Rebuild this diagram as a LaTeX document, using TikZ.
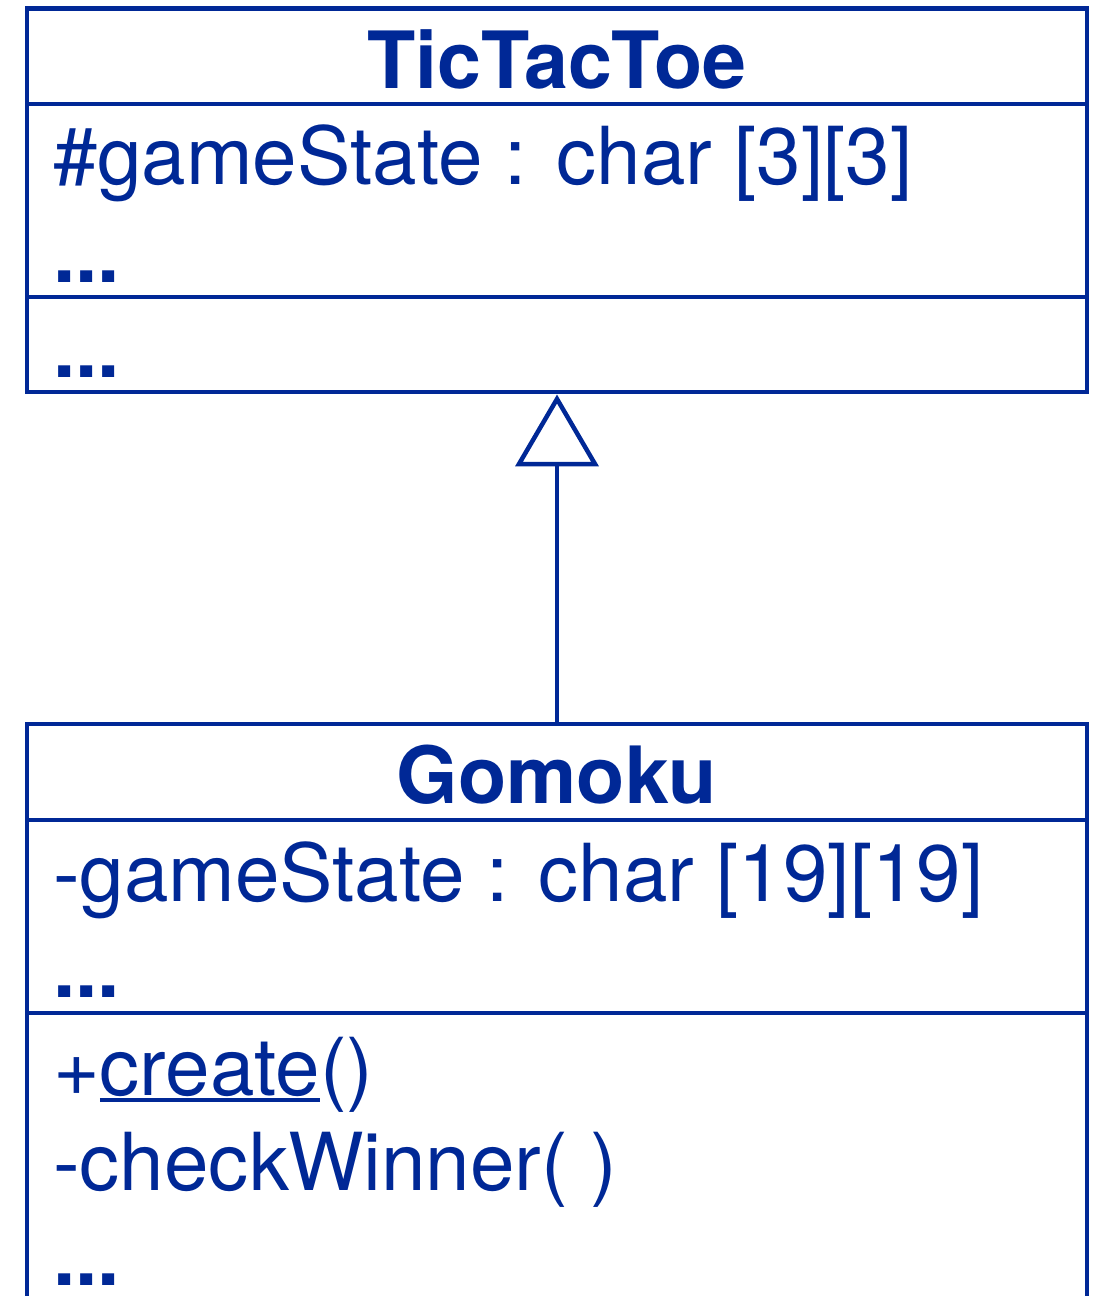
\documentclass[tikz,border=0pt]{standalone}
\usepackage{fontspec}
\setmainfont{TeX Gyre Heros}
\newcommand\umlunderline[1]{\setbox0\hbox{#1}\rlap{\rule[-7pt]{\wd0}{4pt}}\box0}
\newcommand\umlmore{\textbf{...}}
\begin{document}
\begin{tikzpicture}[x=1pt,y=-1pt,
  umlblue/.style={draw=umlcol,line width=4.5pt},
  part/.style={umlblue,rectangle,minimum width=1060pt,inner sep=0pt,outer sep=0pt,anchor=north west},
  member/.style={anchor=base west,inner sep=0pt,text=umlcol,font=\fontsize{80}{96}\selectfont},
  classname/.style={anchor=base,inner sep=0pt,text=umlcol,font=\fontsize{79}{96}\selectfont\bfseries}]
\definecolor{umlcol}{RGB}{0,40,150}
\useasboundingbox (0,0) rectangle (1099,1296);
\clip (0,0) rectangle (1099,1296);

% class TicTacToe
\node[part,minimum height=95.5pt] (tHead) at (27,8.5) {};
\node[part,minimum height=193pt] (tAttr) at (27,104) {};
\node[part,minimum height=95pt] (tOps) at (27,297) {};
\node[classname] (tName) at (557,88) {TicTacToe};
\node[member] (tA1) at (53,184) {\#gameState : char [3][3]};
\node[member] (tA2) at (53,282) {\umlmore};
\node[member] (tO1) at (53,377) {\umlmore};

% class Gomoku (runs on past the lower edge)
\node[part,minimum height=96pt] (gHead) at (27,724) {};
\node[part,minimum height=193pt] (gAttr) at (27,820) {};
\coordinate (gOpsL) at (27,1013);
\coordinate (gOpsR) at (1087,1013);
\coordinate (gEndL) at (27,1310);
\coordinate (gEndR) at (1087,1310);
\draw[umlblue] (gOpsL) -- (gEndL) (gOpsR) -- (gEndR);
\node[classname] (gName) at (557,803) {Gomoku};
\node[member] (gA1) at (53,901) {-gameState : char [19][19]};
\node[member] (gA2) at (53,997) {\umlmore};
\node[member] (gO1) at (53,1095) {+\umlunderline{create}()};
\node[member] (gO2) at (53,1190) {-checkWinner( )};
\node[member,text depth=0pt] (gO3) at (53,1285) {\umlmore};

% generalization: Gomoku inherits from TicTacToe
\coordinate (tip) at (557,399);
\coordinate (baseL) at (519,464);
\coordinate (baseR) at (595,464);
\coordinate (baseM) at (557,464);
\draw[umlblue,line join=miter] (tip) -- (baseL) -- (baseR) -- cycle;
\draw[umlblue] (baseM) -- (gHead.north);
\end{tikzpicture}
\end{document}
